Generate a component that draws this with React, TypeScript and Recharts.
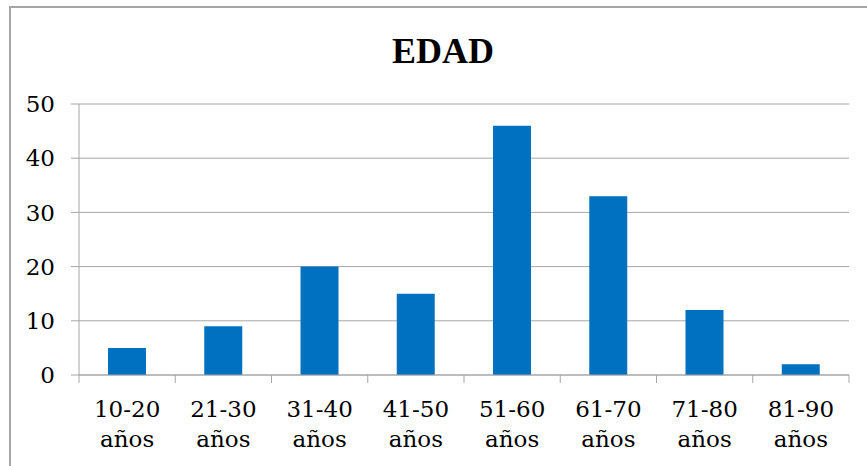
import { BarChart, Bar, XAxis, YAxis, CartesianGrid } from 'recharts';

const ranges = ['10-20', '21-30', '31-40', '41-50', '51-60', '61-70', '71-80', '81-90'];
const counts = [5, 9, 20, 15, 46, 33, 12, 2];
const yTicks = [0, 10, 20, 30, 40, 50];
const unit = 'años';

const data = ranges.map((r, i) => ({ name: r, value: counts[i] }));

// regular Liberation Serif falls back to a sans face here, DejaVu Serif does not
const TICK_FONT = "'DejaVu Serif', serif";
const TITLE_FONT = "'Liberation Serif', 'DejaVu Serif', serif";
const GRAY = '#a6a6a6';

// two-line label plus tick marks on the category borders, like Excel draws them
function XTick(props: any) {
  const { x, y, payload, index, width } = props;
  const band = width / ranges.length;
  const left = x - band / 2;
  const right = x + band / 2;
  return (
    <g>
      <line x1={left} y1={y} x2={left} y2={y + 8} stroke={GRAY} strokeWidth={1} />
      {index === ranges.length - 1 && (
        <line x1={right} y1={y} x2={right} y2={y + 8} stroke={GRAY} strokeWidth={1} />
      )}
      <text x={x} y={y + 42} textAnchor="middle" fontFamily={TICK_FONT} fontSize={23} fill="#000">
        <tspan x={x}>{payload.value}</tspan>
        <tspan x={x} dy={30}>{unit}</tspan>
      </text>
    </g>
  );
}

function YTick(props: any) {
  const { x, y, payload } = props;
  return (
    <text x={x} y={y} dy="0.36em" textAnchor="end" fontFamily={TICK_FONT} fontSize={23} fill="#000">
      {payload.value}
    </text>
  );
}

export default function App() {
  return (
    <div style={{ position: 'absolute', left: 0, top: 0, width: 867, height: 466, background: '#fff', overflow: 'hidden' }}>
      <div
        style={{
          position: 'absolute',
          left: 9,
          top: 6,
          width: 900,
          height: 500,
          borderTop: `2px solid ${GRAY}`,
          borderLeft: `2px solid ${GRAY}`,
        }}
      />
      <div style={{ position: 'absolute', left: 0, top: 0 }}>
        <BarChart width={867} height={466} data={data} margin={{ top: 104, right: 18, left: 0, bottom: 0 }}>
          <CartesianGrid vertical={false} stroke={GRAY} strokeWidth={1} />
          <XAxis
            dataKey="name"
            height={91}
            interval={0}
            tickLine={false}
            tickSize={0}
            tickMargin={0}
            axisLine={{ stroke: GRAY }}
            tick={<XTick />}
          />
          <YAxis
            width={79}
            domain={[0, 50]}
            ticks={yTicks}
            interval={0}
            tickSize={8}
            tickMargin={16}
            axisLine={{ stroke: GRAY }}
            tickLine={{ stroke: GRAY }}
            tick={<YTick />}
          />
          <Bar dataKey="value" fill="#0070c0" barSize={38} isAnimationActive={false} />
        </BarChart>
      </div>
      <svg width={867} height={80} style={{ position: 'absolute', left: 0, top: 0 }}>
        <text x={443} y={63} textAnchor="middle" fontFamily={TITLE_FONT} fontSize={36} fontWeight="bold" fill="#000">
          EDAD
        </text>
      </svg>
    </div>
  );
}
